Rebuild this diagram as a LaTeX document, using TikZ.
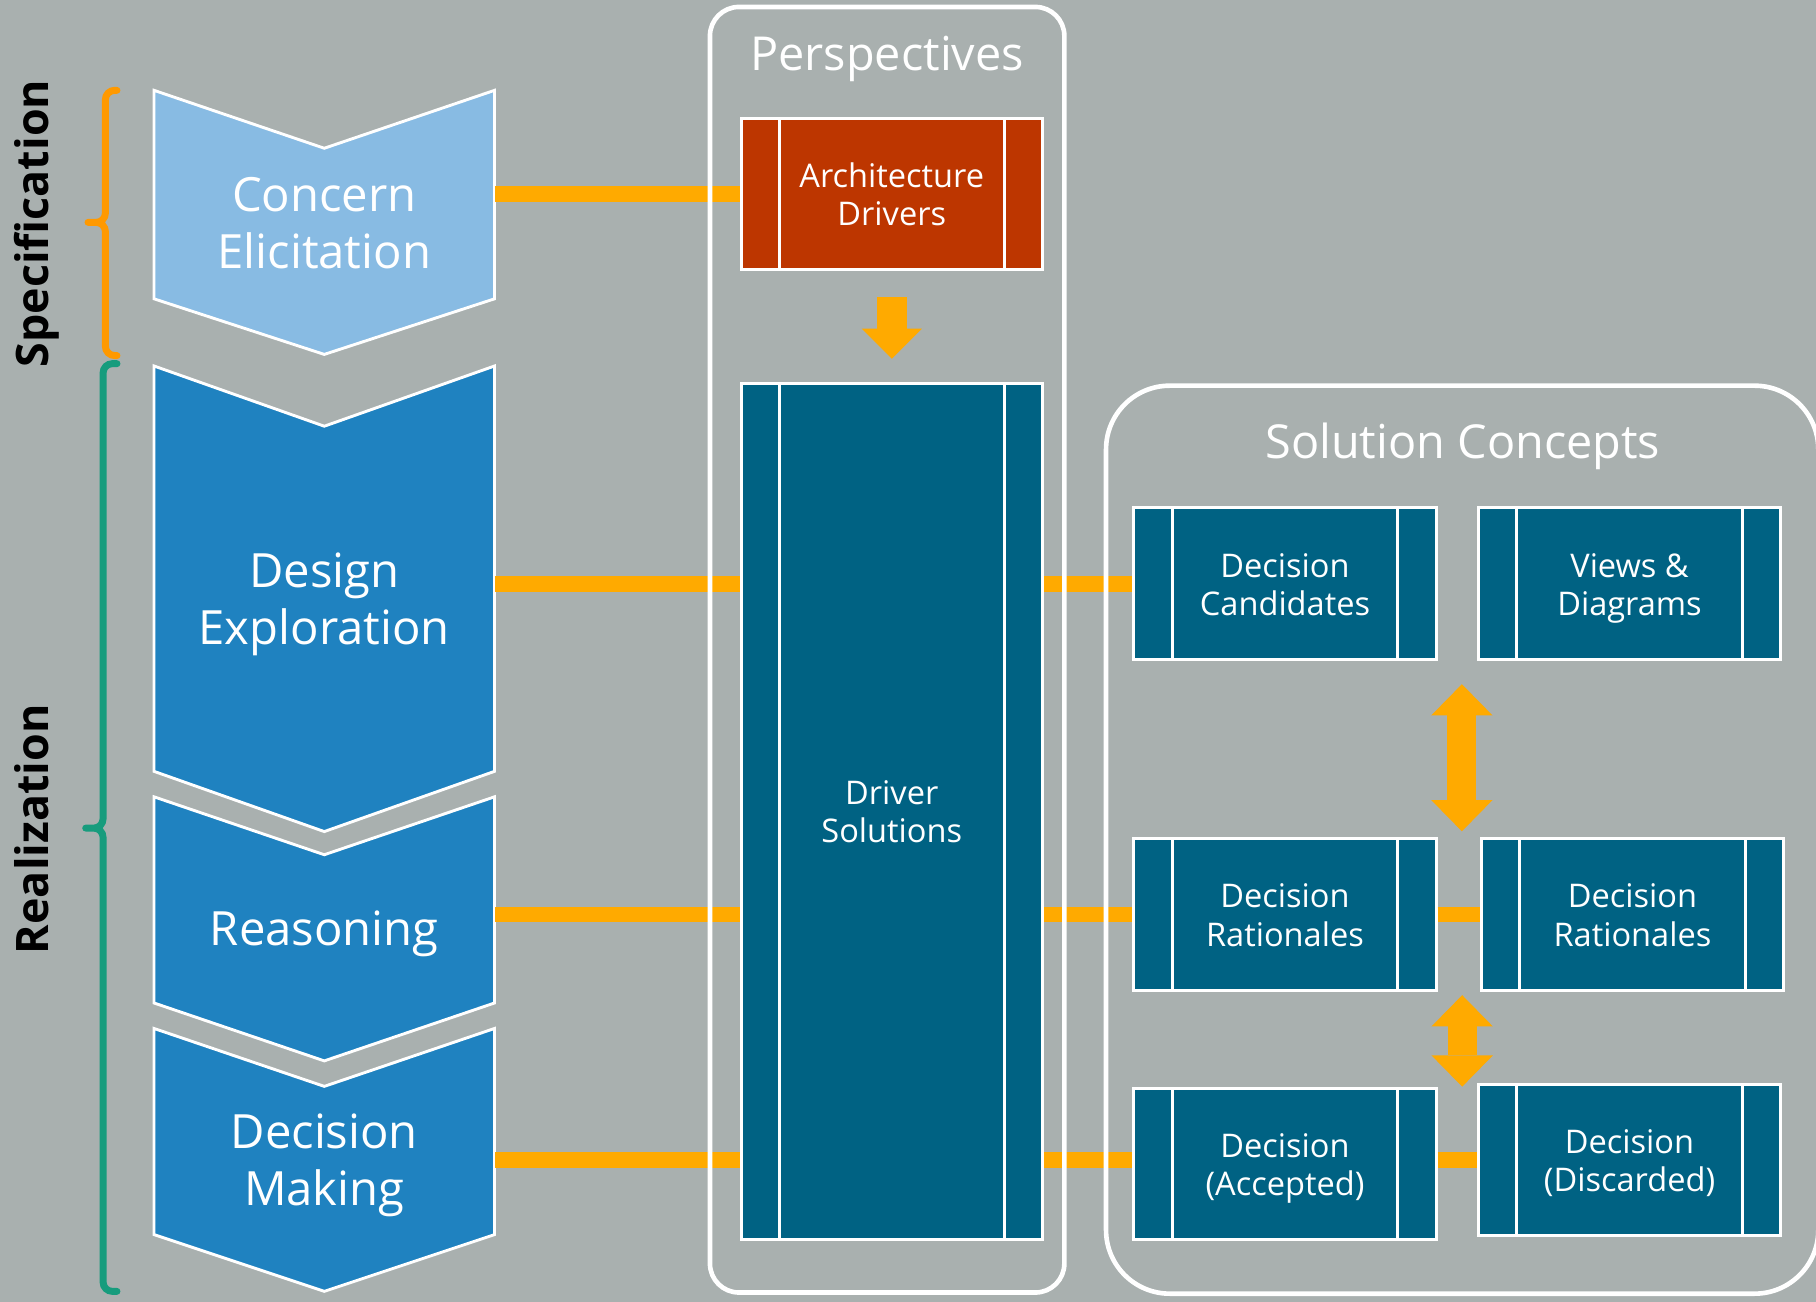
\documentclass[tikz,border=0pt]{standalone}
\usepackage{fontspec}
\setmainfont{Open Sans}
\usepackage{tikz}
\usetikzlibrary{arrows.meta}
\usetikzlibrary{positioning}

\definecolor{bggray}{RGB}{169,176,175}
\definecolor{phaselight}{RGB}{136,187,227}
\definecolor{phaseblue}{RGB}{31,130,192}
\definecolor{solteal}{RGB}{0,98,131}
\definecolor{driverred}{RGB}{189,54,0}
\definecolor{linkorange}{RGB}{255,170,0}
\definecolor{specorange}{RGB}{255,153,0}
\definecolor{realgreen}{RGB}{23,156,125}

% fixed text box height and depth, so descenders do not move the text
\newcommand{\phasebot}{\rule[-3pt]{0pt}{3pt}}
\newcommand{\soltop}{\rule{0pt}{17.74pt}}
\newcommand{\solbot}{\rule[-2.2pt]{0pt}{2.2pt}}

\begin{document}
\begin{tikzpicture}[x=0.1mm, y=-0.1mm,
  phase/.style={minimum width=29.4mm, inner sep=0pt, text=white, align=center,
    font=\fontsize{11.6}{13.9}\selectfont, execute at end node=\phasebot},
  chev/.style={draw=white, line width=0.25mm},
  sol/.style={draw=white, fill=solteal, line width=0.25mm, minimum width=26.1mm,
    minimum height=13.1mm, text=white, align=center, font=\fontsize{8}{9.4}\selectfont,
    execute at begin node=\soltop, execute at end node=\solbot,
    path picture={\draw[white, line width=0.25mm]
      ([xshift=3.3mm]path picture bounding box.north west) -- ([xshift=3.3mm]path picture bounding box.south west)
      ([xshift=-3.3mm]path picture bounding box.north east) -- ([xshift=-3.3mm]path picture bounding box.south east);}},
  grouptitle/.style={text=white, anchor=base, font=\fontsize{11.5}{14}\selectfont},
  groupframe/.style={draw=white, line width=0.4mm, rounded corners=2.5mm},
  sidelabel/.style={rotate=90, anchor=base, font=\bfseries\fontsize{11}{13}\selectfont},
  link/.style={draw=linkorange, line width=1.35mm},
  bigarrow/.style={draw=linkorange, fill=linkorange, line width=2.6mm,
    -{Triangle[width=5.2mm, length=2.6mm, line width=0pt]}},
  dblarrow/.style={draw=linkorange, fill=linkorange, line width=2.5mm,
    {Triangle[width=5.3mm, length=2.7mm, line width=0pt]}-{Triangle[width=5.3mm, length=2.7mm, line width=0pt]}}]

  \useasboundingbox (0,0) rectangle (1568,1124);
  \clip (0,0) rectangle (1568,1124);
  \fill[bggray] (0,0) rectangle (1568,1124);

  % Side braces
  \draw[specorange, line width=0.6mm, rounded corners=0.8mm, line cap=round]
    (101,78) -- (91,78) -- (91,192) -- (76,192)
    (101,307) -- (91,307) -- (91,192) -- (76,192);
  \draw[realgreen, line width=0.6mm, rounded corners=0.8mm, line cap=round]
    (101,314) -- (89,314) -- (89,715) -- (74,715)
    (101,1115) -- (89,1115) -- (89,715) -- (74,715);
  \node[sidelabel] (spec) at (41.5,193) {Specification};
  \node[sidelabel] (real) at (41.5,716) {Realization};

  % Phases
  \draw[chev, fill=phaselight] (133,78) -- (280,128) -- (427,78) -- (427,258) -- (280,306) -- (133,258) -- cycle;
  \node[phase] (ce) at (280,197.5) {Concern\\Elicitation};
  \draw[chev, fill=phaseblue] (133,316) -- (280,368) -- (427,316) -- (427,666) -- (280,718) -- (133,666) -- cycle;
  \node[phase] (de) at (280,522) {Design\\Exploration};
  \draw[chev, fill=phaseblue] (133,688) -- (280,738) -- (427,688) -- (427,866) -- (280,916) -- (133,866) -- cycle;
  \node[phase] (re) at (280,807) {Reasoning};
  \draw[chev, fill=phaseblue] (133,888) -- (280,938) -- (427,888) -- (427,1066) -- (280,1115) -- (133,1066) -- cycle;
  \node[phase] (dm) at (280,1006.5) {Decision\\Making};

  % Perspectives
  \node[grouptitle] (ptitle) at (766,61) {Perspectives};
  \node[sol, fill=driverred, minimum width=26mm] (ad) at (770,167.5) {Architecture\\Drivers};
  \node[sol, minimum width=26mm, minimum height=73.9mm] (ds) at (770,700.5) {Driver\\Solutions};

  % Solution concepts
  \node[grouptitle] (stitle) at (1263,396) {Solution Concepts};
  \node[sol] (dc) at (1109.5,504) {Decision\\Candidates};
  \node[sol] (vd) at (1407,504) {Views \&\\Diagrams};
  \node[sol] (dr1) at (1109.5,789.5) {Decision\\Rationales};
  \node[sol] (dr2) at (1409.5,789.5) {Decision\\Rationales};
  \node[sol] (acc) at (1109.5,1005) {Decision\\(Accepted)};
  \node[sol] (dis) at (1407,1001.5) {Decision\\(Discarded)};

  % Links
  \draw[link] (ce.east |- ad) -- (ad);
  \draw[link] (de.east |- dc) -- (ds.west |- dc);
  \draw[link] (ds.east |- dc) -- (dc);
  \draw[link] (re.east |- dr1) -- (ds.west |- dr1);
  \draw[link] (ds.east |- dr1) -- (dr1);
  \draw[link] (dr1) -- (dr2);
  \draw[link] (dm.east |- dis) -- (ds.west |- dis);
  \draw[link] (ds.east |- dis) -- (acc.west |- dis);
  \draw[link] (acc.east |- dis) -- (dis);

  % Frames
  \draw[groupframe] (613,6) rectangle (919,1116);
  \draw[groupframe, rounded corners=5.5mm] (955,333) rectangle (1570,1117);

  % Arrows
  \draw[bigarrow, shorten <=2.25mm, shorten >=2mm] (ad.south) -- (ds.north);
  \path (dc.south east) -- coordinate (gap1) (vd.south west);
  \draw[dblarrow, shorten <=2mm, shorten >=0.5mm] ([xshift=0.4mm]gap1) -- ([xshift=0.4mm]gap1 |- dr1.north);
  \path (dr1.south east) -- coordinate (gap2) (dr2.south west);
  \draw[dblarrow, shorten <=0.3mm] ([xshift=0.3mm]gap2) -- ([xshift=0.3mm]gap2 |- acc.north);
\end{tikzpicture}
\end{document}
